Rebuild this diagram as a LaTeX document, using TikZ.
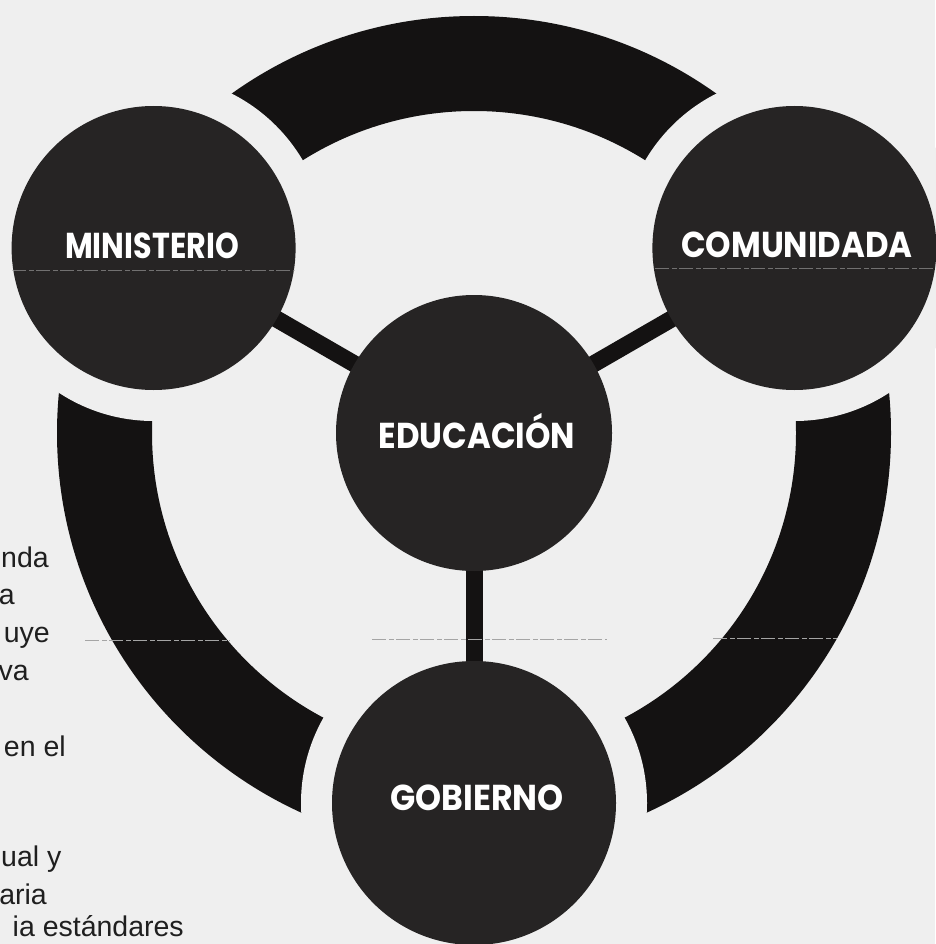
\documentclass[tikz,border=0pt]{standalone}
\usepackage{fontspec}
\setmainfont{Liberation Sans}
\newfontfamily\labfont{Poppins}
\pgfdeclarelayer{bgl}
\pgfdeclarelayer{midl}
\pgfsetlayers{bgl,midl,main}
\definecolor{paper}{RGB}{239,239,239}
\definecolor{discc}{RGB}{38,36,36}
\definecolor{bandc}{RGB}{20,18,18}
\definecolor{scanc}{RGB}{165,165,165}
\tikzset{
  outerdisc/.style={circle, fill=discc, draw=none, inner sep=0pt, minimum size=284pt},
  innerdisc/.style={circle, fill=discc, draw=none, inner sep=0pt, minimum size=276pt},
  lab/.style={anchor=base, text=white, inner sep=0pt, font=\labfont\bfseries\fontsize{36}{36}\selectfont},
  sidetext/.style={anchor=base east, inner sep=0pt, text=black!88, font=\fontsize{28.5}{37}\selectfont},
  bar/.style={line width=17pt, draw=bandc},
  scanline/.style={draw=scanc, line width=1pt, dash pattern=on 14pt off 3pt on 5pt off 2pt},
}
\begin{document}
\begin{tikzpicture}[x=1pt,y=-1pt]
\useasboundingbox (0,0) rectangle (935,944);
\coordinate (ctr) at (474,433);
% discs
\node[outerdisc] (min) at (153.6,248) {};
\node[outerdisc] (com) at (794.4,248) {};
\node[outerdisc] (gob) at (474,803) {};
\node[innerdisc] (edu) at (ctr) {};
% labels
\node[lab] (tmin) at (152,258) {\scalebox{0.84}[1]{MINISTERIO}};
\node[lab] (tcom) at (797,257) {\scalebox{0.9}[1]{COMUNIDADA}};
\node[lab] (tedu) at (477,448) {\scalebox{0.9}[1]{EDUCACIÓN}};
\node[lab] (tgob) at (477,810) {\scalebox{0.92}[1]{GOBIERNO}};
% ring and gaps
\begin{pgfonlayer}{bgl}
  \fill[paper] (0,0) rectangle (935,944);
  \fill[bandc, even odd rule] (ctr) circle (417) (ctr) circle (322);
  \fill[paper] (min.center) circle (173);
  \fill[paper] (com.center) circle (173);
  \fill[paper] (gob.center) circle (173);
\end{pgfonlayer}
% connectors
\begin{pgfonlayer}{midl}
  \draw[bar] (min.center) -- (edu.center);
  \draw[bar] (com.center) -- (edu.center);
  \draw[bar] (gob.center) -- (edu.center);
\end{pgfonlayer}
% scan artefacts
\draw[scanline, draw opacity=0.6] (12,270) -- (295,270);
\draw[scanline, draw opacity=0.6] (655,268) -- (935,268);
\draw[scanline] (85,640) -- (230,640);
\draw[scanline] (372,639) -- (607,639);
\draw[scanline] (713,638) -- (837,638);
% cropped side text
\node[sidetext, anchor=base west] (s1) at (1,567) {nda};
\node[sidetext] (s2) at (15,604) {a};
\node[sidetext] (s3) at (50,642) {uye};
\node[sidetext] (s4) at (29,680) {va};
\node[sidetext] (s5) at (66,756) {en el};
\node[sidetext, anchor=base west] (s6) at (1,866) {ual y};
\node[sidetext] (s7) at (47,904) {aria};
\node[sidetext] (s8) at (184,936) {ia estándares};
\end{tikzpicture}
\end{document}
